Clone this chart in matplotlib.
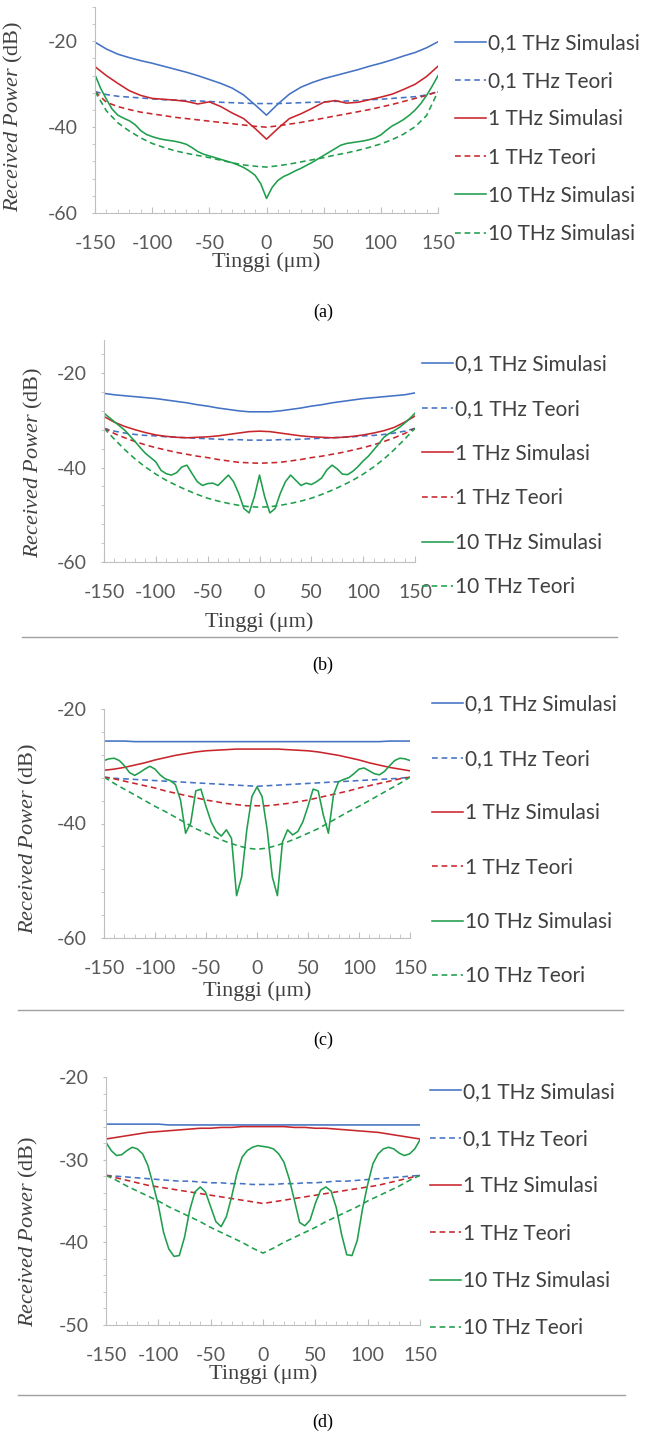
import numpy as np
import matplotlib
matplotlib.use('Agg')
import matplotlib.pyplot as plt
from matplotlib.ticker import MultipleLocator
from matplotlib.lines import Line2D

# x grid (um)
X10 = np.arange(-150, 151, 10)
X5 = np.arange(-150, 151, 5)

# ---- panel (a)
A_BLUE_SIM = [-20.2, -21.8, -23.0, -23.8, -24.5, -25.1, -25.8, -26.5, -27.2, -28.0, -28.9, -29.8, -30.9, -32.5, -34.8, -37.2,
              -34.6, -32.3, -30.7, -29.6, -28.7, -28.0, -27.3, -26.6, -25.8, -25.1, -24.3, -23.4, -22.6, -21.5, -20.1]
A_BLUE_TEO = [-31.7, -32.4, -32.8, -33.0, -33.2, -33.4, -33.6, -33.7, -33.8, -33.9, -34.0, -34.2, -34.3, -34.4, -34.5, -34.5,
              -34.5, -34.4, -34.3, -34.2, -34.1, -34.0, -33.9, -33.8, -33.6, -33.5, -33.3, -33.1, -32.9, -32.5, -31.7]
A_RED_SIM = [-25.9, -28.0, -29.8, -31.5, -32.6, -33.3, -33.5, -33.7, -34.0, -34.6, -34.1, -35.2, -36.7, -38.0, -40.3, -42.8,
             -40.3, -38.0, -36.9, -35.6, -34.2, -33.8, -34.4, -34.2, -33.6, -33.0, -32.3, -31.2, -30.0, -28.2, -25.8]
A_RED_TEO = [-31.7, -34.2, -35.2, -35.9, -36.5, -36.9, -37.3, -37.7, -38.0, -38.3, -38.6, -38.9, -39.2, -39.5, -39.8, -40.0,
             -39.7, -39.3, -38.9, -38.4, -37.9, -37.4, -36.9, -36.4, -35.9, -35.3, -34.7, -34.0, -33.3, -32.6, -31.7]
A_GREEN_SIM = [-27.8, -31.0, -33.5, -35.8, -37.2, -37.9, -38.5, -39.4, -40.8, -41.7, -42.2, -42.6, -42.9, -43.1, -43.3, -43.6,
               -44.0, -44.8, -45.7, -46.3, -46.7, -47.1, -47.5, -47.9, -48.3, -48.8, -49.4, -50.2, -51.2, -53.2, -56.6,
               -54.0, -52.4, -51.5, -50.9, -50.2, -49.6, -48.9, -48.2, -47.4, -46.6, -45.8, -45.0, -44.2, -43.8, -43.6,
               -43.4, -43.2, -42.9, -42.5, -41.8, -40.7, -39.7, -39.0, -38.2, -37.2, -36.0, -34.5, -32.6, -30.4, -28.0]
A_GREEN_TEO = [-31.7, -36.2, -39.0, -40.9, -42.5, -43.8, -44.7, -45.5, -46.1, -46.6, -47.1, -47.7, -48.3, -48.8, -49.1, -49.3,
               -49.0, -48.6, -48.1, -47.6, -47.1, -46.5, -46.0, -45.4, -44.7, -43.9, -42.9, -41.6, -39.9, -37.3, -31.7]

# ---- panel (b)
B_BLUE_SIM = [-24.3, -24.6, -24.8, -25.0, -25.2, -25.4, -25.7, -26.0, -26.3, -26.7, -27.0, -27.4, -27.7, -28.0, -28.2, -28.2,
              -28.2, -28.0, -27.7, -27.4, -27.0, -26.7, -26.3, -26.0, -25.7, -25.4, -25.2, -25.0, -24.8, -24.6, -24.2]
B_BLUE_TEO = [-31.7, -32.3, -32.7, -33.0, -33.2, -33.3, -33.5, -33.6, -33.7, -33.8, -33.9, -34.0, -34.1, -34.1, -34.2, -34.2,
              -34.2, -34.1, -34.1, -34.0, -33.9, -33.8, -33.7, -33.6, -33.5, -33.3, -33.2, -33.0, -32.7, -32.3, -31.7]
B_RED_SIM = [-29.2, -30.4, -31.3, -32.0, -32.6, -33.1, -33.4, -33.6, -33.7, -33.6, -33.5, -33.3, -33.0, -32.7, -32.4, -32.3,
             -32.4, -32.7, -33.0, -33.3, -33.5, -33.6, -33.7, -33.6, -33.4, -33.1, -32.7, -32.2, -31.5, -30.4, -29.1]
B_RED_TEO = [-31.7, -32.8, -33.7, -34.5, -35.2, -35.8, -36.3, -36.8, -37.2, -37.6, -37.9, -38.3, -38.6, -38.9, -39.0, -39.1,
             -39.0, -38.9, -38.6, -38.3, -37.9, -37.6, -37.2, -36.8, -36.3, -35.8, -35.2, -34.5, -33.7, -32.8, -31.7]
B_GREEN_SIM = [-28.5, -29.4, -30.3, -31.2, -32.1, -33.3, -34.5, -35.8, -37.0, -37.9, -38.8, -40.6, -41.3, -41.6, -41.1, -39.9,
               -39.5, -41.3, -43.0, -43.8, -43.4, -43.3, -43.8, -42.7, -41.6, -43.0, -45.5, -48.7, -49.6, -46.2, -41.6,
               -46.2, -49.6, -48.7, -45.5, -43.0, -41.6, -42.7, -43.8, -43.3, -43.6, -43.0, -42.2, -40.5, -39.5, -40.3,
               -41.4, -41.5, -40.8, -39.8, -38.6, -37.6, -36.3, -35.0, -33.6, -32.8, -32.2, -31.5, -30.6, -29.6, -28.5]
B_GREEN_TEO = [-31.7, -34.0, -36.2, -38.2, -39.9, -41.4, -42.7, -43.8, -44.8, -45.7, -46.5, -47.1, -47.6, -48.0, -48.3, -48.4,
               -48.3, -48.0, -47.6, -47.1, -46.5, -45.7, -44.8, -43.8, -42.7, -41.4, -39.9, -38.2, -36.2, -34.0, -31.7]

# ---- panel (c)
C_BLUE_SIM = [-25.6, -25.6, -25.6, -25.7, -25.7, -25.7, -25.7, -25.7, -25.7, -25.7, -25.7, -25.7, -25.7, -25.7, -25.7, -25.7,
              -25.7, -25.7, -25.7, -25.7, -25.7, -25.7, -25.7, -25.7, -25.7, -25.7, -25.7, -25.7, -25.6, -25.6, -25.6]
C_BLUE_TEO = [-31.9, -32.1, -32.2, -32.3, -32.4, -32.5, -32.6, -32.7, -32.8, -32.9, -33.0, -33.1, -33.2, -33.3, -33.4, -33.5,
              -33.4, -33.3, -33.2, -33.1, -33.0, -32.9, -32.8, -32.7, -32.6, -32.5, -32.4, -32.3, -32.2, -32.1, -31.9]
C_RED_SIM = [-30.7, -30.5, -30.2, -29.8, -29.4, -28.9, -28.5, -28.1, -27.8, -27.5, -27.3, -27.2, -27.1, -27.0, -27.0, -27.0,
             -27.0, -27.0, -27.1, -27.2, -27.3, -27.5, -27.8, -28.1, -28.5, -28.9, -29.4, -29.8, -30.2, -30.5, -30.8]
C_RED_TEO = [-31.9, -32.2, -32.6, -33.0, -33.4, -33.8, -34.3, -34.7, -35.1, -35.5, -35.9, -36.2, -36.5, -36.7, -36.9, -36.9,
             -36.9, -36.7, -36.5, -36.2, -35.9, -35.5, -35.1, -34.7, -34.3, -33.8, -33.4, -33.0, -32.6, -32.2, -31.9]
C_GREEN_SIM = [-29.0, -28.7, -28.6, -29.0, -29.9, -31.1, -31.6, -31.1, -30.5, -30.0, -30.5, -31.5, -32.2, -32.5, -33.2, -35.9,
               -41.7, -39.9, -34.3, -34.0, -37.0, -39.7, -41.4, -42.2, -41.1, -42.6, -52.6, -49.3, -41.1, -35.3, -33.6,
               -35.3, -41.1, -49.3, -52.6, -43.2, -41.1, -42.0, -41.4, -39.7, -37.0, -34.0, -34.3, -38.5, -41.7, -35.0,
               -32.7, -32.3, -32.0, -31.3, -30.5, -30.3, -30.8, -31.3, -31.5, -30.9, -29.9, -29.0, -28.6, -28.7, -29.0]
C_GREEN_TEO = [-31.9, -33.0, -34.0, -35.0, -36.0, -37.0, -37.9, -38.9, -39.9, -40.9, -41.7, -42.5, -43.2, -43.8, -44.3, -44.5,
               -44.3, -43.8, -43.2, -42.5, -41.7, -40.9, -39.9, -38.9, -37.9, -37.0, -36.0, -35.0, -34.0, -33.0, -31.9]

# ---- panel (d)
D_BLUE_SIM = [-25.7, -25.7, -25.7, -25.7, -25.7, -25.7, -25.8, -25.8, -25.8, -25.8, -25.8, -25.8, -25.8, -25.8, -25.8, -25.8,
              -25.8, -25.8, -25.8, -25.8, -25.8, -25.8, -25.8, -25.8, -25.8, -25.8, -25.8, -25.8, -25.8, -25.8, -25.8]
D_BLUE_TEO = [-31.9, -32.0, -32.1, -32.2, -32.3, -32.4, -32.5, -32.6, -32.6, -32.7, -32.8, -32.8, -32.9, -32.9, -33.0, -33.0,
              -33.0, -32.9, -32.9, -32.8, -32.8, -32.7, -32.6, -32.6, -32.5, -32.4, -32.3, -32.2, -32.1, -32.0, -31.9]
D_RED_SIM = [-27.5, -27.3, -27.1, -26.9, -26.7, -26.6, -26.5, -26.4, -26.3, -26.2, -26.2, -26.1, -26.1, -26.0, -26.0, -26.0,
             -26.0, -26.0, -26.1, -26.1, -26.2, -26.2, -26.3, -26.4, -26.5, -26.6, -26.7, -26.9, -27.1, -27.3, -27.5]
D_RED_TEO = [-31.9, -32.2, -32.5, -32.8, -33.1, -33.3, -33.5, -33.7, -33.9, -34.1, -34.3, -34.5, -34.7, -34.9, -35.1, -35.3,
             -35.1, -34.9, -34.7, -34.5, -34.3, -34.1, -33.9, -33.7, -33.5, -33.3, -33.1, -32.8, -32.5, -32.2, -31.9]
D_GREEN_SIM = [-27.9, -28.9, -29.5, -29.4, -28.9, -28.5, -28.7, -29.3, -30.7, -33.0, -35.5, -38.8, -40.8, -41.7, -41.6, -39.4,
               -36.1, -33.9, -33.3, -33.9, -35.7, -37.5, -38.1, -36.9, -34.5, -31.7, -29.7, -28.9, -28.5, -28.3, -28.4,
               -28.5, -28.7, -29.3, -30.3, -32.3, -34.9, -37.6, -38.0, -37.3, -35.3, -33.7, -33.3, -33.8, -35.8, -39.0,
               -41.5, -41.6, -39.8, -36.0, -33.0, -30.5, -29.3, -28.7, -28.5, -28.7, -29.2, -29.5, -29.3, -28.7, -27.6]
D_GREEN_TEO = [-31.9, -32.5, -33.2, -33.8, -34.4, -35.0, -35.7, -36.3, -36.9, -37.5, -38.2, -38.8, -39.4, -40.0, -40.7, -41.3,
               -40.7, -40.0, -39.4, -38.8, -38.2, -37.5, -36.9, -36.3, -35.7, -35.0, -34.4, -33.8, -33.2, -32.5, -31.9]

LABELS = ['0,1 THz Simulasi', '0,1 THz Teori', '1 THz Simulasi', '1 THz Teori', '10 THz Simulasi', '10 THz Teori']
LABELS_A = LABELS[:5] + ['10 THz Simulasi']

BLUE = '#4472C4'
RED = '#C8262C'
GREEN = '#1F9E4C'
DASH = (0, (3.6, 2.4))
STYLES = [(BLUE, '-'), (BLUE, DASH), (RED, '-'), (RED, DASH), (GREEN, '-'), (GREEN, DASH)]

plt.rcParams['axes.unicode_minus'] = False
plt.rcParams['mathtext.fontset'] = 'custom'
plt.rcParams['mathtext.rm'] = 'Liberation Serif'
plt.rcParams['mathtext.it'] = 'Liberation Serif:italic'

W, H = 646, 1437
fig = plt.figure(figsize=(W / 100, H / 100), dpi=100)


def box(l, r, t, b):
    return [l / W, 1 - b / H, (r - l) / W, (b - t) / H]


panels = [
    dict(pos=(95, 438, 7, 213), ylim=(-60, -12), ymaj=20, ymin=4,
         data=[(X10, A_BLUE_SIM), (X10, A_BLUE_TEO), (X10, A_RED_SIM), (X10, A_RED_TEO), (X5, A_GREEN_SIM), (X10, A_GREEN_TEO)],
         labels=LABELS_A, leg=(455, 138.5, 0.87), ylab=(-0.204, 0.47), xlab=-0.19, cap=('(a)', 312)),
    dict(pos=(104, 415, 340, 562), ylim=(-60, -13), ymaj=20, ymin=4,
         data=[(X10, B_BLUE_SIM), (X10, B_BLUE_TEO), (X10, B_RED_SIM), (X10, B_RED_TEO), (X5, B_GREEN_SIM), (X10, B_GREEN_TEO)],
         labels=LABELS, leg=(422, 476, 1.18), ylab=(-0.19, 0.45), xlab=-0.225, cap=('(b)', 665)),
    dict(pos=(104, 410, 709, 938), ylim=(-60, -20), ymaj=20, ymin=4,
         data=[(X10, C_BLUE_SIM), (X10, C_BLUE_TEO), (X10, C_RED_SIM), (X10, C_RED_TEO), (X5, C_GREEN_SIM), (X10, C_GREEN_TEO)],
         labels=LABELS, leg=(432, 840.5, 1.65), ylab=(-0.209, 0.437), xlab=-0.19, cap=('(c)', 1040)),
    dict(pos=(106, 420, 1077, 1325), ylim=(-50, -20), ymaj=10, ymin=2,
         data=[(X10, D_BLUE_SIM), (X10, D_BLUE_TEO), (X10, D_RED_SIM), (X10, D_RED_TEO), (X5, D_GREEN_SIM), (X10, D_GREEN_TEO)],
         labels=LABELS, leg=(430, 1210, 1.31), ylab=(-0.21, 0.379), xlab=-0.16, cap=('(d)', 1422)),
]

GRAY = '#BFBFBF'
TXT = '#595959'

for p in panels:
    ax = fig.add_axes(box(*p['pos']))
    for (x, y), (c, ls), lab in zip(p['data'], STYLES, p['labels']):
        ax.plot(x, y, color=c, linestyle=ls, lw=1.15, label=lab)
    ax.set_xlim(-150, 150)
    ax.set_ylim(*p['ylim'])
    ax.xaxis.set_major_locator(MultipleLocator(50))
    ax.xaxis.set_minor_locator(MultipleLocator(10))
    ax.yaxis.set_major_locator(MultipleLocator(p['ymaj']))
    ax.yaxis.set_minor_locator(MultipleLocator(p['ymin']))
    for s in ['top', 'right']:
        ax.spines[s].set_visible(False)
    for s in ['left', 'bottom']:
        ax.spines[s].set_color(GRAY)
    ax.tick_params(axis='x', which='major', direction='in', length=4.5, color=GRAY, pad=16,
                   labelsize=14, labelcolor=TXT)
    ax.tick_params(axis='x', which='minor', direction='in', length=2.8, color=GRAY)
    ax.tick_params(axis='y', which='both', direction='out', length=2.2, color=GRAY, pad=10,
                   labelsize=14, labelcolor=TXT)
    for t in ax.get_xticklabels() + ax.get_yticklabels():
        t.set_fontfamily('Lato')
    ax.set_xlabel('Tinggi (\u03bcm)', fontfamily='Liberation Serif', fontsize=16, color='#404040')
    ax.xaxis.set_label_coords(0.5, p['xlab'])
    ax.set_ylabel(r'$\mathit{Received\ Power}$ (dB)', fontfamily='Liberation Serif', fontsize=16, color='#404040')
    ax.yaxis.set_label_coords(*p['ylab'])

    lx, lyc, lsp = p['leg']
    ax.legend(loc='center left', bbox_to_anchor=(lx / W, 1 - lyc / H), bbox_transform=fig.transFigure,
              frameon=False, borderpad=0, borderaxespad=0, handlelength=1.5, handletextpad=0.1,
              labelspacing=lsp, prop={'family': 'Lato', 'size': 15}, labelcolor='#404040')

    cap, cy = p['cap']
    fig.text(323 / W, 1 - cy / H, cap, ha='center', va='center', fontfamily='Liberation Serif', fontsize=13)

# separator rules under (b), (c), (d)
for y, x0, x1 in [(637, 22, 617), (1010, 18, 623), (1395, 18, 625)]:
    fig.add_artist(Line2D([x0 / W, x1 / W], [1 - y / H, 1 - y / H], color='#A0A0A0', lw=1))

fig.savefig('out.png', dpi=100)
